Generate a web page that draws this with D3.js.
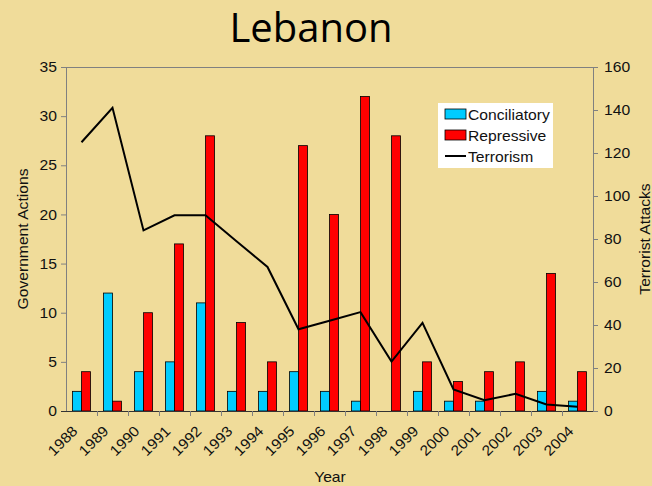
<!DOCTYPE html>
<html>
<head>
<meta charset="utf-8">
<script src="https://cdn.jsdelivr.net/npm/d3@7"></script>
<style>
  html, body { margin: 0; padding: 0; background: #f0dc9a; }
  svg { display: block; }
</style>
</head>
<body>
<div id="chart"></div>
<script>
// data
const years = ["1988","1989","1990","1991","1992","1993","1994","1995","1996","1997","1998","1999","2000","2001","2002","2003","2004"];
const conciliatory = [2, 12, 4, 5, 11, 2, 2, 4, 2, 1, 0, 2, 1, 1, 0, 2, 1];
const repressive = [4, 1, 10, 17, 28, 9, 5, 27, 20, 32, 28, 5, 3, 4, 5, 14, 4];
const terrorism = [125, 141, 84, 91, 91, 79, 67, 38, 42, 46, 23, 41, 10, 5, 8, 3, 2];
const leftTicks = [0, 5, 10, 15, 20, 25, 30, 35];
const rightTicks = [0, 20, 40, 60, 80, 100, 120, 140, 160];

const width = 652;
const height = 486;
const plot = { left: 66, right: 593, top: 67, bottom: 411 };
const font = "'Liberation Sans', Arial, sans-serif";
const fontSize = "14.5px";
const axisColor = "#808080";

const svg = d3.select("#chart")
  .append("svg")
  .attr("width", width)
  .attr("height", height)
  .style("background", "#f0dc9a");

// the original text looks a bit wider than Arial, so stretch it a little
function stretch(sel, k) {
  sel.each(function () {
    const len = this.getComputedTextLength();
    d3.select(this)
      .attr("textLength", len * k)
      .attr("lengthAdjust", "spacingAndGlyphs");
  });
}

// scales
const x = d3.scaleBand().domain(years).range([plot.left, plot.right]).padding(0);
const yLeft = d3.scaleLinear().domain([0, 35]).range([plot.bottom, plot.top]);
const yRight = d3.scaleLinear().domain([0, 160]).range([plot.bottom, plot.top]);

const bw = x.bandwidth();
const barW = bw / 3.44;
const inner = d3.scaleBand().domain(["c", "r"]).range([(bw - 2 * barW) / 2, (bw + 2 * barW) / 2]);

// title
svg.append("text")
  .attr("x", 311)
  .attr("y", 42)
  .attr("text-anchor", "middle")
  .attr("fill", "#000")
  .style("font-family", "'Open Sans', sans-serif")
  .style("font-size", "40px")
  .text("Lebanon");

// plot frame (top line)
svg.append("line")
  .attr("x1", plot.left).attr("x2", plot.right)
  .attr("y1", plot.top + 0.5).attr("y2", plot.top + 0.5)
  .attr("stroke", axisColor);

// bars
const g = svg.append("g");
const series = [
  { key: "c", values: conciliatory, color: "#00ccff" },
  { key: "r", values: repressive, color: "#ff0000" }
];
series.forEach((s) => {
  g.selectAll(".bar-" + s.key)
    .data(years)
    .enter()
    .append("rect")
    .attr("class", "bar-" + s.key)
    .attr("x", (d) => x(d) + inner(s.key))
    .attr("width", inner.bandwidth())
    .attr("y", (d, i) => yLeft(s.values[i]))
    .attr("height", (d, i) => plot.bottom - yLeft(s.values[i]))
    .attr("fill", s.color)
    .attr("stroke", (d, i) => s.values[i] > 0 ? "#000" : "none")
    .attr("stroke-width", 0.8);
});

// terrorism line
const line = d3.line()
  .x((d, i) => x(years[i]) + bw / 2)
  .y((d) => yRight(d));
svg.append("path")
  .datum(terrorism)
  .attr("d", line)
  .attr("fill", "none")
  .attr("stroke", "#000")
  .attr("stroke-width", 2);

// left axis
const leftAxis = svg.append("g")
  .attr("transform", `translate(${plot.left},0)`)
  .call(d3.axisLeft(yLeft).tickValues(leftTicks).tickSize(5).tickPadding(4));
leftAxis.select(".domain").attr("stroke", axisColor);
leftAxis.selectAll(".tick line").attr("stroke", axisColor);
leftAxis.selectAll("text").style("font-family", font).style("font-size", fontSize).attr("fill", "#111");

// right axis
const rightAxis = svg.append("g")
  .attr("transform", `translate(${plot.right},0)`)
  .call(d3.axisRight(yRight).tickValues(rightTicks).tickSize(5).tickPadding(6));
rightAxis.select(".domain").attr("stroke", axisColor);
rightAxis.selectAll(".tick line").attr("stroke", axisColor);
rightAxis.selectAll("text").style("font-family", font).style("font-size", fontSize).attr("fill", "#111");

// bottom axis: ticks at category boundaries
const bottom = svg.append("g");
bottom.append("line")
  .attr("x1", plot.left - 5).attr("x2", plot.right)
  .attr("y1", plot.bottom + 0.5).attr("y2", plot.bottom + 0.5)
  .attr("stroke", "#333");
bottom.selectAll(".xtick")
  .data(years.slice(1))
  .enter()
  .append("line")
  .attr("x1", (d) => x(d) + 0.5).attr("x2", (d) => x(d) + 0.5)
  .attr("y1", plot.bottom).attr("y2", plot.bottom + 5)
  .attr("stroke", axisColor);
bottom.selectAll(".xlabel")
  .data(years)
  .enter()
  .append("text")
  .attr("class", "xlabel")
  .attr("transform", (d) => `translate(${x(d) + bw / 2 - 3},${plot.bottom + 21}) rotate(-45)`)
  .attr("text-anchor", "end")
  .attr("fill", "#111")
  .style("font-family", font)
  .style("font-size", fontSize)
  .text((d) => d);

// axis titles
svg.append("text")
  .attr("class", "axis-title")
  .attr("transform", `translate(28,${(plot.top + plot.bottom) / 2}) rotate(-90)`)
  .attr("text-anchor", "middle")
  .style("font-family", font)
  .style("font-size", fontSize)
  .attr("fill", "#111")
  .text("Government Actions");
svg.append("text")
  .attr("class", "axis-title")
  .attr("transform", `translate(650,${(plot.top + plot.bottom) / 2}) rotate(-90)`)
  .attr("text-anchor", "middle")
  .style("font-family", font)
  .style("font-size", fontSize)
  .attr("fill", "#111")
  .text("Terrorist Attacks");
svg.append("text")
  .attr("class", "axis-title")
  .attr("x", 330)
  .attr("y", 482)
  .attr("text-anchor", "middle")
  .style("font-family", font)
  .style("font-size", fontSize)
  .attr("fill", "#111")
  .text("Year");

// legend
const legend = svg.append("g").attr("transform", "translate(438,103)");
legend.append("rect")
  .attr("width", 115).attr("height", 65)
  .attr("fill", "#fff");
const legendItems = [
  { label: "Conciliatory", type: "rect", color: "#00ccff" },
  { label: "Repressive", type: "rect", color: "#ff0000" },
  { label: "Terrorism", type: "line", color: "#000" }
];
legendItems.forEach((item, i) => {
  const yy = 12 + i * 21;
  if (item.type === "rect") {
    legend.append("rect")
      .attr("x", 7).attr("y", yy - 6)
      .attr("width", 21).attr("height", 10)
      .attr("fill", item.color)
      .attr("stroke", "#000")
      .attr("stroke-width", 0.8);
  } else {
    legend.append("line")
      .attr("x1", 7).attr("x2", 28)
      .attr("y1", yy - 1).attr("y2", yy - 1)
      .attr("stroke", "#000")
      .attr("stroke-width", 2);
  }
  legend.append("text")
    .attr("class", "legend-text")
    .attr("x", 30)
    .attr("y", yy + 5)
    .style("font-family", font)
    .style("font-size", fontSize)
    .attr("fill", "#111")
    .text(item.label);
});

// widen all the small texts
stretch(svg.selectAll(".tick text, .xlabel, .axis-title, .legend-text"), 1.08);
</script>
</body>
</html>
